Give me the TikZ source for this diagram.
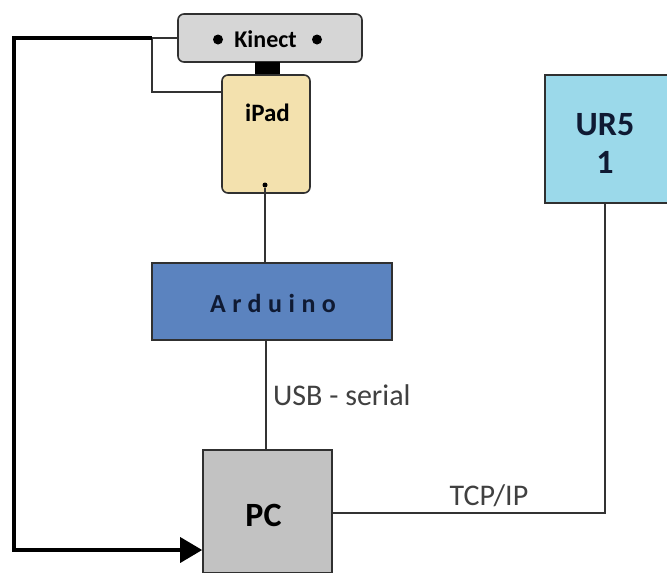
\documentclass[tikz,border=0pt]{standalone}
\usepackage{fontspec}
\setmainfont{Carlito}
\usetikzlibrary{arrows.meta}
\definecolor{kingray}{HTML}{D6D6D6}
\definecolor{ipadtan}{HTML}{F3E1AE}
\definecolor{ardblue}{HTML}{5B83BF}
\definecolor{urblue}{HTML}{9BD9EA}
\definecolor{pcgray}{HTML}{C2C2C2}
\definecolor{edgec}{HTML}{303030}
\definecolor{navytext}{HTML}{0F1A33}
\tikzset{
  boxbase/.style={draw=edgec, line width=1.6pt, inner sep=0pt},
  thinline/.style={draw=black!80, line width=1.3pt},
  thickline/.style={draw=black, line width=3.5pt},
  lbl/.style={anchor=base, inner sep=0pt},
  kbullet/.style={circle, fill=black, inner sep=0pt, minimum size=10pt},
}
\begin{document}
\begin{tikzpicture}[x=1pt,y=-1pt]
\clip (0,0) rectangle (667,573);
\fill[white] (0,0) rectangle (667,573);
% nodes
\node[boxbase, fill=kingray, rounded corners=6pt, minimum width=184pt, minimum height=48pt] (kin) at (270,38) {};
\node[lbl, font=\bfseries\fontsize{24}{28}\selectfont] (kintxt) at (265.5,47) {Kinect};
\node[kbullet] (kbl) at (218,39.5) {};
\node[kbullet] (kbr) at (317,39.5) {};
\node[fill=black, minimum width=25pt, minimum height=14pt, inner sep=0pt] (conn) at (267.5,69) {};
\node[boxbase, fill=ipadtan, rounded corners=6pt, minimum width=88pt, minimum height=118pt] (ipad) at (266,134) {};
\node[lbl, font=\bfseries\fontsize{25}{28}\selectfont] (ipadtxt) at (267.5,121) {iPad};
\node[circle, fill=black, inner sep=0pt, minimum size=5pt] (dot) at (265,185) {};
\node[boxbase, fill=ardblue, minimum width=240pt, minimum height=77pt] (ard) at (272,301.5) {};
\node[lbl, font=\bfseries\fontsize{26}{28}\selectfont\addfontfeature{LetterSpace=25}, text=navytext] (ardtxt) at (273,312) {Arduino};
\node[boxbase, fill=pcgray, minimum width=129pt, minimum height=123pt] (pc) at (267.5,511.5) {};
\node[lbl, font=\bfseries\fontsize{34}{36}\selectfont] (pctxt) at (263.5,526) {PC};
\node[boxbase, fill=urblue, minimum width=130pt, minimum height=128pt] (ur) at (610,139) {};
\node[lbl, font=\bfseries\fontsize{34}{36}\selectfont, text=navytext] (urtxt) at (605,135) {UR5};
\node[lbl, font=\bfseries\fontsize{34}{36}\selectfont, text=navytext] (urnum) at (605,173) {1};
\node[lbl, anchor=base west, font=\fontsize{30}{34}\selectfont, text=black!75] (usb) at (273,405) {USB - serial};
\node[lbl, font=\fontsize{30}{34}\selectfont, text=black!75] (tcp) at (489,505) {TCP/IP};
% connectors
\coordinate (k1) at (152,38);
\coordinate (tl) at (14,38);
\coordinate (bl) at (14,550);
\coordinate (tc) at (605,513);
\draw[thinline] (kin.west) -- (k1) |- (ipad.west |- 0,92);
\draw[thickline, -{Triangle[length=22pt,width=25pt]}] (k1) -- (tl) -- (bl) -- (bl -| pc.west);
\draw[thinline] (dot) -- (dot |- ard.north);
\draw[thinline] (ard.south -| 266,0) -- (pc.north -| 266,0);
\draw[thinline] (pc.east |- tc) -- (tc) -- (tc |- ur.south);
\end{tikzpicture}
\end{document}
